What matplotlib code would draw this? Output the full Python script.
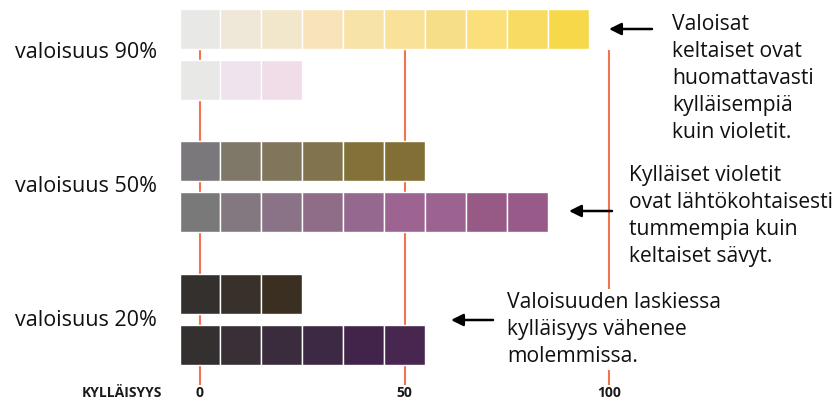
import matplotlib
matplotlib.use("Agg")
from matplotlib import pyplot as plt

plt.rcParams['font.family'] = ['Open Sans', 'DejaVu Sans']

# chroma steps (kylläisyys) for each cell, one colour per cell
chroma = [0, 10, 20, 30, 40, 50, 60, 70, 80, 90]

yellow_90 = ['#e8e8e6', '#efe8d9', '#f2e6cb', '#f8e4ba', '#f7e2a8',
             '#f9e198', '#f6de89', '#fadf7a', '#f8db63', '#f7d84b']
violet_90 = ['#e8e8e6', '#efe3ee', '#f0dde8']
yellow_50 = ['#7b787b', '#7f7768', '#81765c', '#82734f', '#827239', '#826f36']
violet_50 = ['#7a7979', '#837780', '#8a7287', '#8f6c88', '#956890',
             '#9d6391', '#9c6290', '#975a87', '#985a88']
yellow_20 = ['#34302e', '#38302a', '#3a2f20']
violet_20 = ['#33302f', '#383036', '#3a2c3c', '#3d2944', '#42244a', '#47264f']

row_labels = ['valoisuus 90%', 'valoisuus 50%', 'valoisuus 20%']
ticks = [0, 50, 100]
axis_title = 'KYLLÄISYYS'

notes = [
    'Valoisat\nkeltaiset ovat\nhuomattavasti\nkylläisempiä\nkuin violetit.',
    'Kylläiset violetit\novat lähtökohtaisesti\ntummempia kuin\nkeltaiset sävyt.',
    'Valoisuuden laskiessa\nkylläisyys vähenee\nmolemmissa.',
]

W, H = 836, 403
fig = plt.figure(figsize=(W / 100, H / 100), dpi=100)
ax = fig.add_axes([0, 0, 1, 1])
px = 4.09  # pixels per chroma unit
ax.set_xlim(-200 / px, (W - 200) / px)
ax.set_ylim(H, 0)
ax.axis('off')

rows = [yellow_90, violet_90, yellow_50, violet_50, yellow_20, violet_20]
row_y = [29, 79.5, 161, 211.5, 294, 344.5]
for cols, y in zip(rows, row_y):
    c = chroma[:len(cols)]
    ax.barh([y] * len(cols), [10] * len(cols), left=[v - 5 for v in c],
            height=40, color=cols, edgecolor='white', linewidth=1.0, zorder=2)

ax.vlines(ticks, 50, 385, color='#f07352', linewidth=1.5, zorder=1)

for t in ticks:
    ax.text(t, 393, str(t), ha='center', va='center', fontsize=10,
            fontweight='bold', color='#1a1a1a')
ax.text((162 - 200) / px, 393, axis_title, ha='right', va='center',
        fontsize=10, fontweight='bold', color='#1a1a1a')

for lab, y in zip(row_labels, [53, 186, 320]):
    fig.text(15 / W, 1 - y / H, lab, ha='left', va='center', fontsize=15.5,
             color='#111111')

def note(x, y, s, bg=False):
    kw = {}
    if bg:
        kw['bbox'] = dict(facecolor='white', edgecolor='none', pad=2)
    # y is the baseline of the last line
    fig.text(x / W, 1 - y / H, s, ha='left', va='baseline', fontsize=15.2,
             color='#111111', linespacing=1.38, **kw)

note(672, 138, notes[0])
note(629, 262, notes[1])
note(507, 362, notes[2], bg=True)

def arrow(x0, x1, y):
    ax.annotate('', xy=((x1 - 200) / px, y), xytext=((x0 - 200) / px, y),
                arrowprops=dict(arrowstyle='-|>', color='black', lw=1.8,
                                mutation_scale=18, shrinkA=0, shrinkB=0))

arrow(652, 609, 29)
arrow(612, 569, 211)
arrow(493, 451, 320)

fig.savefig('out.png', dpi=100)
